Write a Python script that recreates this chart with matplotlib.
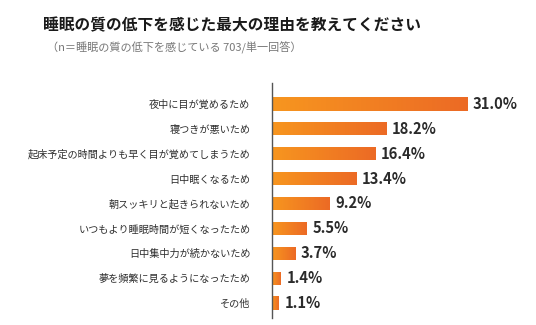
import numpy as np
import matplotlib
matplotlib.use('Agg')
import matplotlib.pyplot as plt
from matplotlib.colors import LinearSegmentedColormap

plt.rcParams['font.family'] = ['Noto Sans CJK JP', 'DejaVu Sans']

title = '睡眠の質の低下を感じた最大の理由を教えてください'
subtitle = '（n＝睡眠の質の低下を感じている 703/単一回答）'
reasons = ['夜中に目が覚めるため', '寝つきが悪いため', '起床予定の時間よりも早く目が覚めてしまうため',
           '日中眠くなるため', '朝スッキリと起きられないため', 'いつもより睡眠時間が短くなったため',
           '日中集中力が続かないため', '夢を頻繁に見るようになったため', 'その他']
shares = [31.0, 18.2, 16.4, 13.4, 9.2, 5.5, 3.7, 1.4, 1.1]

fig = plt.figure(figsize=(5.36, 3.25), dpi=100)
ax = fig.add_axes([272 / 536, 7 / 325, 258 / 536, 235 / 325])

# グラデーションのバー (左が明るく右が濃い)
cmap = LinearSegmentedColormap.from_list('og', ['#F7961F', '#EC6A25'])
grad = np.linspace(0, 1, 256).reshape(1, -1)
ypos = np.arange(len(reasons))
bars = ax.barh(ypos, shares, height=0.53, color='#F28A22', linewidth=0)
for b, v in zip(bars, shares):
    y0 = b.get_y()
    im = ax.imshow(grad, cmap=cmap, aspect='auto', extent=(0, v, y0 + b.get_height(), y0), zorder=2)
    im.set_clip_path(b)

for y, v in zip(ypos, shares):
    ax.text(v + 0.9, y, f'{v:.1f}%', va='center', ha='left', fontsize=10.6,
            fontweight='bold', color='#2b2b2b')

ax.set_xlim(0, 41)
ax.set_ylim(8.6, -0.84)
ax.set_yticks(ypos)
ax.set_yticklabels(reasons, fontsize=7.3, color='#2e2e2e')
ax.tick_params(axis='y', length=0, pad=15.5)
ax.set_xticks([])
for s in ['top', 'right', 'bottom']:
    ax.spines[s].set_visible(False)
ax.spines['left'].set_color('#555555')
ax.spines['left'].set_linewidth(1)

fig.text(43 / 536, 1 - 25 / 325, title, fontsize=11.3, fontweight='bold', color='#1a1a1a',
         va='center', ha='left')
fig.text(47 / 536, 1 - 48 / 325, subtitle, fontsize=8.0, color='#777777', va='center', ha='left')

fig.savefig('out.png', dpi=100)
